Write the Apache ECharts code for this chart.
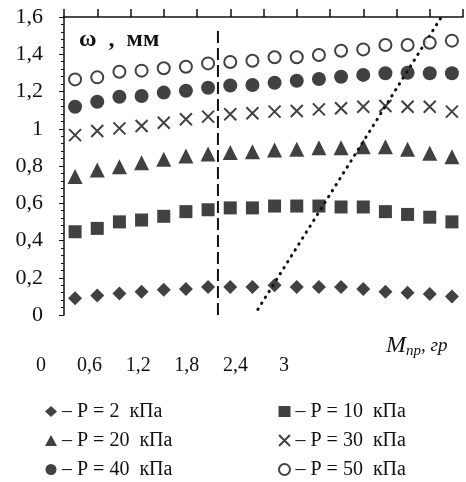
<!DOCTYPE html>
<html lang="en">
  <head>
    <meta charset="UTF-8" />
    <title>omega vs M</title>
    <script src="https://cdn.jsdelivr.net/npm/echarts@6.0.0/dist/echarts.min.js"></script>
    <style>
      body { margin: 0; background: #fff; }
    </style>
  </head>
  <body>
    <div id="main" style="width: 466px; height: 482px"></div>
    <script type="text/javascript">
      // measurement points (18 per series)
      const samples = [1, 2, 3, 4, 5, 6, 7, 8, 9, 10, 11, 12, 13, 14, 15, 16, 17, 18];

      const p2 = [0.09, 0.105, 0.115, 0.125, 0.135, 0.14, 0.15, 0.15, 0.15, 0.16, 0.15, 0.15, 0.15, 0.14, 0.125, 0.12, 0.113, 0.1];
      const p10 = [0.447, 0.465, 0.5, 0.51, 0.53, 0.555, 0.565, 0.575, 0.575, 0.585, 0.585, 0.585, 0.58, 0.58, 0.555, 0.54, 0.525, 0.5];
      const p20 = [0.743, 0.778, 0.796, 0.818, 0.836, 0.854, 0.864, 0.872, 0.877, 0.886, 0.89, 0.898, 0.898, 0.904, 0.904, 0.89, 0.868, 0.85];
      const p30 = [0.966, 0.988, 1.002, 1.015, 1.032, 1.051, 1.065, 1.078, 1.083, 1.092, 1.095, 1.104, 1.11, 1.118, 1.122, 1.118, 1.118, 1.092];
      const p40 = [1.118, 1.145, 1.172, 1.176, 1.194, 1.204, 1.22, 1.232, 1.235, 1.247, 1.258, 1.267, 1.279, 1.289, 1.298, 1.301, 1.298, 1.298];
      const p50 = [1.265, 1.276, 1.306, 1.312, 1.325, 1.333, 1.351, 1.358, 1.365, 1.384, 1.384, 1.396, 1.419, 1.426, 1.45, 1.45, 1.462, 1.473];

      // tick labels printed under the axis
      const xTickLabels = ["0", "0,6", "1,2", "1,8", "2,4", "3"];

      // guide lines, in tick-axis units
      const dashedLine = [[4.63, 0], [4.63, 1.53]];
      const dottedLine = [[5.83, 0.03], [11.35, 1.6]];

      const serif = "Liberation Serif";
      const ink = "#111";

      let myChart = echarts.init(document.getElementById("main"));

      function pointSeries(name, data, symbol, size, style) {
        return {
          name: name,
          type: "scatter",
          xAxisIndex: 0,
          yAxisIndex: 0,
          data: data,
          symbol: symbol,
          symbolSize: size,
          itemStyle: style,
          z: 3,
        };
      }

      const crossSymbol = "path://M0,0L10,10M10,0L0,10";

      function legendColumn(left, names) {
        return {
          orient: "vertical",
          left: left,
          top: 396,
          height: 86,
          itemGap: 8,
          itemWidth: 12,
          itemHeight: 11,
          data: names,
          formatter: (n) => "– " + n,
          textStyle: { fontFamily: serif, fontSize: 20, lineHeight: 21, color: ink },
        };
      }

      let options = {
        backgroundColor: "#fff",
        animation: false,
        grid: [
          { left: 64, right: 3, top: 17, bottom: 167 },
          { left: 41, right: 182, top: 300, bottom: 128 },
        ],
        xAxis: [
          { type: "category", gridIndex: 0, data: samples, show: false },
          {
            type: "value",
            gridIndex: 0,
            min: 0,
            max: 12,
            interval: 1,
            axisLine: { show: true, lineStyle: { color: ink, width: 1.5 } },
            axisTick: { show: true, length: 8, lineStyle: { color: ink, width: 1.5 } },
            axisLabel: { show: false },
            splitLine: { show: false },
          },
          {
            type: "category",
            gridIndex: 1,
            data: xTickLabels,
            boundaryGap: false,
            axisLine: { show: false },
            axisTick: { show: false },
            axisLabel: { margin: 2, fontFamily: serif, fontSize: 20, color: ink },
          },
        ],
        yAxis: [
          {
            type: "value",
            gridIndex: 0,
            min: 0,
            max: 1.6,
            interval: 0.2,
            axisLine: { show: true, lineStyle: { color: ink, width: 1.5 } },
            axisTick: { show: true, length: 5, lineStyle: { color: ink } },
            minorTick: { show: true, splitNumber: 5, length: 3, lineStyle: { color: ink } },
            splitLine: { show: false },
            axisLabel: {
              margin: 21,
              fontFamily: serif,
              fontSize: 22,
              color: ink,
              formatter: (v) => String(Math.round(v * 10) / 10).replace(".", ","),
            },
          },
          { type: "value", gridIndex: 1, show: false, min: 0, max: 1 },
        ],
        legend: [
          legendColumn(40, ["P = 2  кПа", "P = 20  кПа", "P = 40  кПа"]),
          legendColumn(273, ["P = 10  кПа", "P = 30  кПа", "P = 50  кПа"]),
        ],
        graphic: [
          {
            type: "text",
            left: 79,
            top: 28,
            style: {
              text: "ω  ,  мм",
              fontFamily: serif,
              fontWeight: "bold",
              fontSize: 24,
              fill: ink,
            },
          },
          {
            type: "text",
            left: 386,
            top: 334,
            style: {
              text: "{m|M}{s|np}{r|, гр}",
              fill: ink,
              rich: {
                m: { fontFamily: serif, fontStyle: "italic", fontSize: 24 },
                s: { fontFamily: serif, fontStyle: "italic", fontSize: 15, padding: [10, 0, 0, 0] },
                r: { fontFamily: serif, fontStyle: "italic", fontSize: 19 },
              },
            },
          },
        ],
        series: [
          pointSeries("P = 2  кПа", p2, "diamond", 14, { color: ink }),
          pointSeries("P = 10  кПа", p10, "rect", 13, { color: ink }),
          pointSeries("P = 20  кПа", p20, "triangle", 15, { color: ink }),
          pointSeries("P = 30  кПа", p30, crossSymbol, 12, {
            color: "transparent",
            borderColor: ink,
            borderWidth: 2,
          }),
          pointSeries("P = 40  кПа", p40, "circle", 14, { color: ink }),
          pointSeries("P = 50  кПа", p50, "circle", 12, {
            color: "#fff",
            borderColor: ink,
            borderWidth: 2,
          }),
          {
            type: "line",
            xAxisIndex: 1,
            yAxisIndex: 0,
            data: dashedLine,
            symbol: "none",
            lineStyle: { color: ink, width: 2, type: [12, 5] },
            silent: true,
          },
          {
            type: "line",
            xAxisIndex: 1,
            yAxisIndex: 0,
            data: dottedLine,
            symbol: "none",
            lineStyle: { color: ink, width: 3, type: [0.5, 6.5], cap: "round" },
            silent: true,
          },
        ],
      };

      myChart.setOption(options);
    </script>
  </body>
</html>
